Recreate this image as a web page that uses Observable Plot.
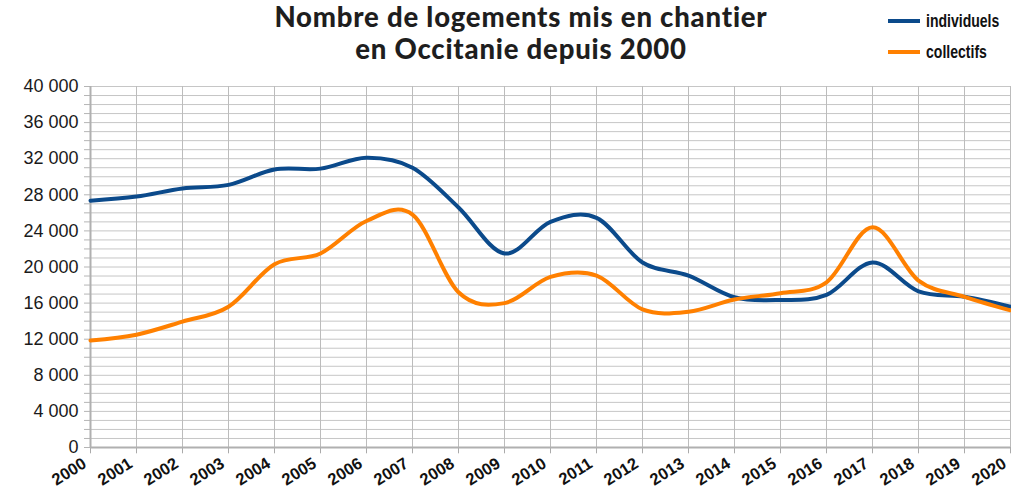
<!DOCTYPE html>
<html><head><meta charset="utf-8">
<script src="https://cdn.jsdelivr.net/npm/d3@7"></script>
<script src="https://cdn.jsdelivr.net/npm/@observablehq/plot@0.6"></script>
<style>
body{margin:0;background:#fff;}
#wrap{position:relative;width:1011px;height:488px;overflow:hidden;background:#fff}
.title{position:absolute;left:0;width:1042px;text-align:center;font-family:Lato,"Open Sans",sans-serif;font-weight:900;font-size:27.5px;letter-spacing:0.8px;line-height:33px;color:#1e1e1e;white-space:nowrap}
.leg{position:absolute;left:888px;font-family:"Liberation Sans",Arial,sans-serif;font-weight:bold;font-size:18px;color:#111;white-space:nowrap}
.leg span.l{display:inline-block;width:32px;height:4px;vertical-align:middle;margin-right:6px;position:relative;top:-1px}
.leg span.t{display:inline-block;transform:scaleX(0.78);transform-origin:left center}
svg{position:absolute;left:0;top:0}
</style></head>
<body>
<div id="wrap">
<div class="title" id="t1" style="top:0px">Nombre de logements mis en chantier</div>
<div class="title" id="t2" style="top:32px">en Occitanie depuis 2000</div>
<div class="leg" id="leg1" style="top:11px"></div>
<div class="leg" id="leg2" style="top:42px"></div>
</div>
<script>
const years = [2000,2001,2002,2003,2004,2005,2006,2007,2008,2009,2010,2011,2012,2013,2014,2015,2016,2017,2018,2019,2020];
const individuels = [27350,27800,28700,29100,30800,30900,32100,31000,26600,21500,25000,25450,20500,19050,16650,16350,16900,20500,17300,16700,15600];
const collectifs = [11850,12500,13950,15600,20300,21500,25100,25800,17200,16000,18900,19050,15300,15050,16400,17100,18300,24400,18500,16700,15200];
const seriesNames = ["individuels","collectifs"];
const seriesColors = ["#0b4a8b","#ff8000"];
const yTicks = [0,4000,8000,12000,16000,20000,24000,28000,32000,36000,40000];
const yMinor = d3.range(0,40001,1000);

const data = [];
years.forEach((y,i)=>{
  data.push({year:y, value:individuels[i], serie:"individuels"});
  data.push({year:y, value:collectifs[i], serie:"collectifs"});
});
const fmt = d => d3.format(",")(d).replace(/,/g," ");
const curve = d3.curveCatmullRom.alpha(0);

const chart = Plot.plot({
  width:1011, height:488,
  marginLeft:90, marginRight:1, marginTop:86, marginBottom:41,
  x:{domain:[2000,2020], axis:null},
  y:{domain:[0,40000], axis:null},
  color:{domain:seriesNames, range:seriesColors},
  style:{background:"transparent", fontFamily:"'Liberation Sans', Arial, sans-serif", color:"#1a1a1a"},
  marks:[
    Plot.ruleY(yMinor, {y:d=>d, stroke:"#c6c6c6", strokeWidth:1}),
    Plot.ruleX(years, {x:d=>d, stroke:"#bcbcbc", strokeWidth:1}),
    Plot.ruleX(years, {x:d=>d, y1:0, y2:-700, stroke:"#aaaaaa", strokeWidth:1}),
    Plot.axisY({ticks:yMinor, tickSize:6, tickFormat:()=>"", label:null, stroke:"#b5b5b5"}),
    Plot.ruleX([2000], {stroke:"#b0b0b0", strokeWidth:2}),
    Plot.ruleY([0], {stroke:"#b0b0b0", strokeWidth:2}),
    Plot.text(yTicks, {y:d=>d, text:fmt, frameAnchor:"left", textAnchor:"end", dx:-12, fontSize:18, fill:"#1a1a1a"}),
    Plot.text(years, {x:d=>d, text:d=>String(d), frameAnchor:"bottom", textAnchor:"end", lineAnchor:"bottom", rotate:-32, dx:-3, dy:19, fontSize:16.5, fontWeight:"bold", fill:"#111"}),
    Plot.line(data, {x:"year", y:"value", z:"serie", stroke:"serie", strokeWidth:4, curve})
  ]
});
document.getElementById("wrap").appendChild(chart);
document.getElementById("leg1").innerHTML = `<span class="l" style="background:${seriesColors[0]}"></span><span class="t">${seriesNames[0]}</span>`;
document.getElementById("leg2").innerHTML = `<span class="l" style="background:${seriesColors[1]}"></span><span class="t">${seriesNames[1]}</span>`;
const w = document.getElementById("wrap");
["t1","t2","leg1","leg2"].forEach(id=>w.appendChild(document.getElementById(id)));
</script>
</body></html>
